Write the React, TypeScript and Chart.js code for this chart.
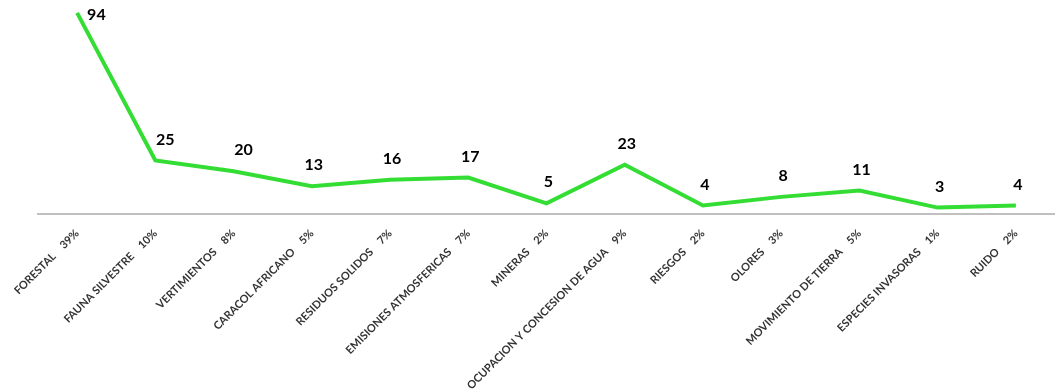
import React, { useEffect, useRef } from "react";
import { Chart, registerables } from "chart.js";

Chart.register(...registerables);

const categories: string[] = [
  "FORESTAL    39%",
  "FAUNA SILVESTRE    10%",
  "VERTIMIENTOS    8%",
  "CARACOL AFRICANO    5%",
  "RESIDUOS SOLIDOS    7%",
  "EMISIONES ATMOSFERICAS    7%",
  "MINERAS    2%",
  "OCUPACION Y CONCESION DE AGUA    9%",
  "RIESGOS    2%",
  "OLORES    3%",
  "MOVIMIENTO DE TIERRA    5%",
  "ESPECIES INVASORAS    1%",
  "RUIDO    2%",
];

const values: number[] = [94, 25, 20, 13, 16, 17, 5, 23, 4, 8, 11, 3, 4];

const yMin = 0;
const yMax = 100;

const valueLabelPlugin = {
  id: "valueLabels",
  afterDatasetsDraw(chart: any) {
    const ctx = chart.ctx;
    const meta = chart.getDatasetMeta(0);
    const data = chart.data.datasets[0].data as number[];
    ctx.save();
    ctx.font = "bold 16px Lato";
    ctx.fillStyle = "#000000";
    ctx.textBaseline = "middle";
    meta.data.forEach((pt: any, i: number) => {
      const txt = String(data[i]);
      if (i === 0) {
        ctx.textAlign = "left";
        ctx.fillText(txt, pt.x + 10, pt.y + 2);
      } else {
        ctx.textAlign = "center";
        const dx = i <= 2 ? 10 : 2;
        ctx.fillText(txt, pt.x + dx, pt.y - 21);
      }
    });
    ctx.restore();
  },
};

export default function App() {
  const canvasRef = useRef<HTMLCanvasElement | null>(null);

  useEffect(() => {
    if (!canvasRef.current) return;
    const chart = new Chart(canvasRef.current, {
      type: "line",
      data: {
        labels: categories,
        datasets: [
          {
            data: values,
            borderColor: "#33dd33",
            backgroundColor: "#33dd33",
            borderWidth: 4,
            pointRadius: 0,
            pointHoverRadius: 0,
            tension: 0,
            fill: false,
            clip: false as any,
          },
        ],
      },
      options: {
        animation: false,
        responsive: true,
        maintainAspectRatio: false,
        layout: { padding: { left: 38, right: -3, top: 0, bottom: 0 } },
        plugins: {
          legend: { display: false },
          tooltip: { enabled: false },
        },
        scales: {
          x: {
            offset: true,
            grid: { display: false },
            border: { display: true, color: "#c0c0c0", width: 2 },
            ticks: {
              autoSkip: false,
              minRotation: 45,
              maxRotation: 45,
              padding: 5,
              color: "#333333",
              font: { family: "Lato", size: 11, weight: "bold" },
            },
            afterFit: (scale: any) => {
              scale.height = 178;
              scale.paddingLeft = 0;
              scale.paddingRight = 0;
            },
          },
          y: {
            display: false,
            min: yMin,
            max: yMax,
          },
        },
      },
      plugins: [valueLabelPlugin],
    });
    return () => chart.destroy();
  }, []);

  return (
    <div style={{ position: "absolute", left: 0, top: 0, width: 1055, height: 392, background: "#ffffff" }}>
      <canvas ref={canvasRef} />
    </div>
  );
}
